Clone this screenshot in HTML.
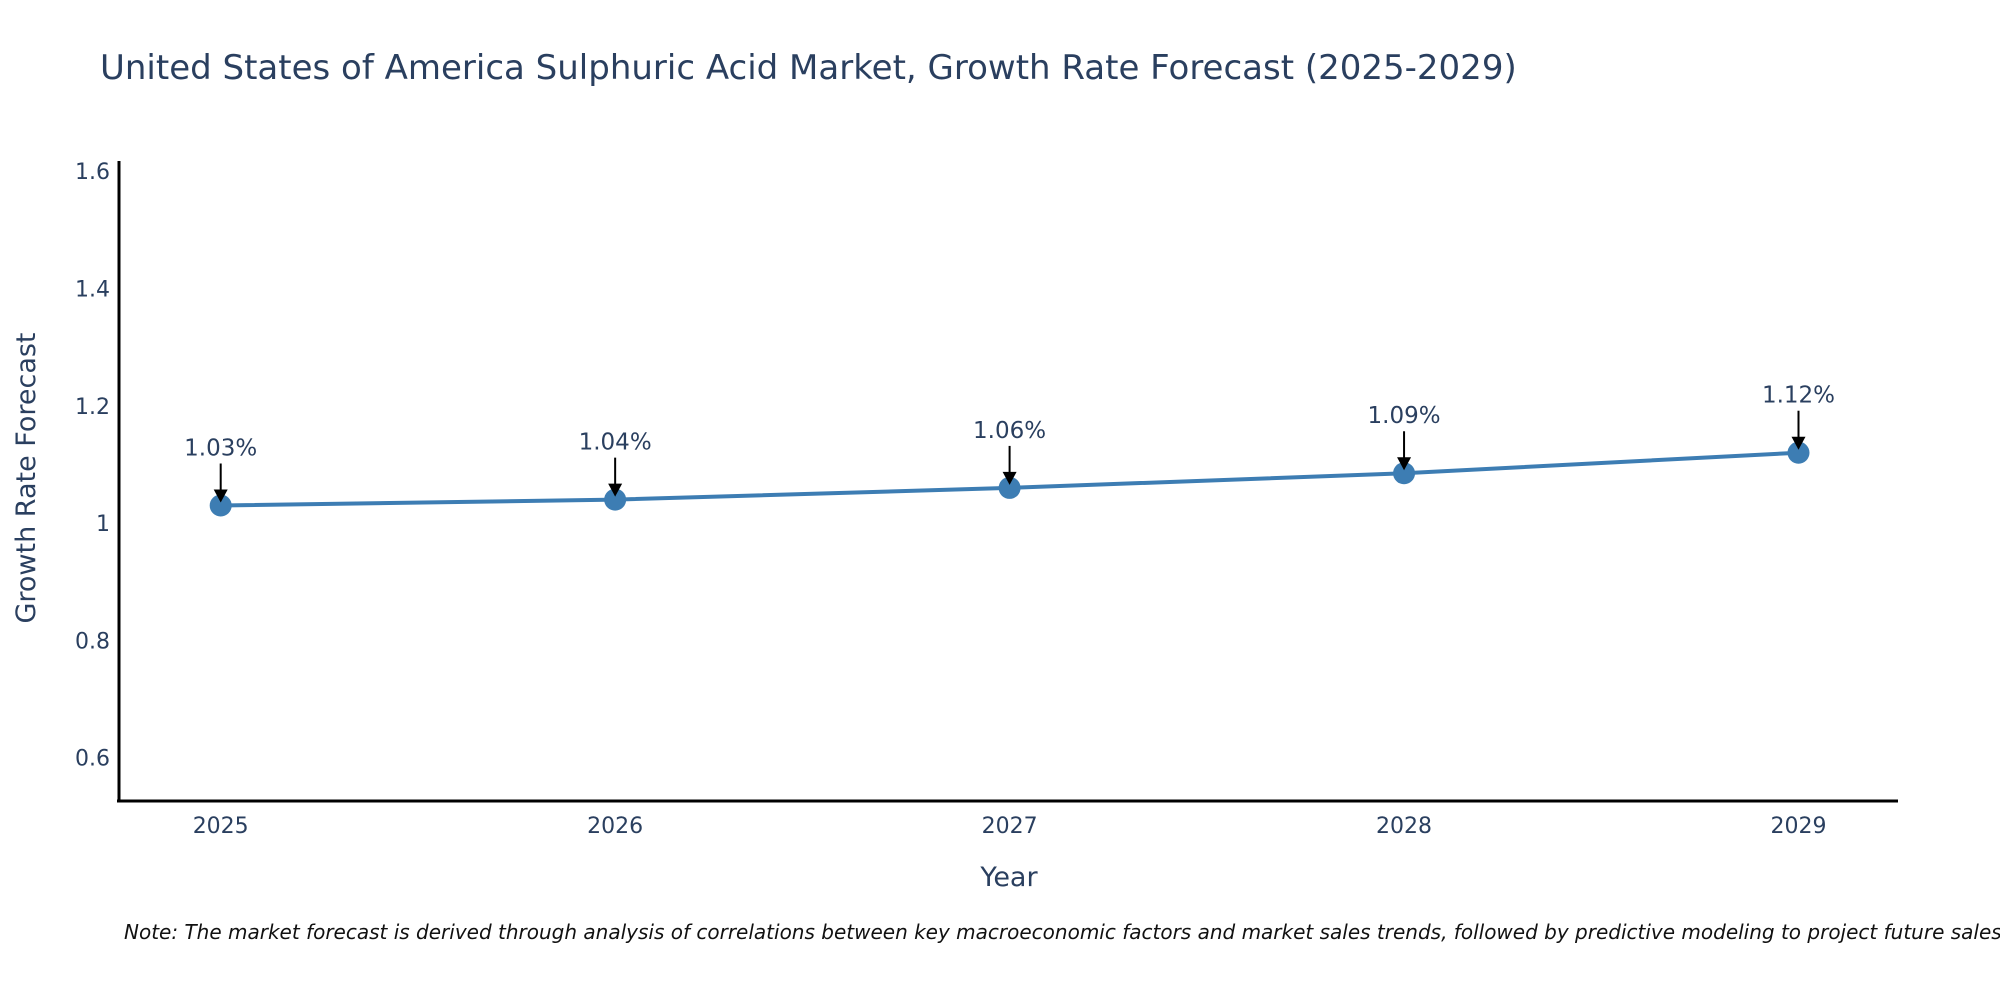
<!DOCTYPE html>
<html><head><meta charset="utf-8"><style>
body{margin:0;background:#fff;}
svg{display:block;font-family:"DejaVu Sans","Liberation Sans",sans-serif;}
</style></head><body>
<svg id="chart" width="2000" height="1000" viewBox="0 0 2000 1000" xmlns="http://www.w3.org/2000/svg">
<text x="100" y="79" font-size="34" fill="#2a3f5f">United States of America Sulphuric Acid Market, Growth Rate Forecast (2025-2029)</text>
<g id="yticks"></g>
<g id="xticks"></g>
<line x1="119" y1="161" x2="119" y2="802" stroke="#000" stroke-width="3"/>
<line x1="117" y1="801" x2="1898" y2="801" stroke="#000" stroke-width="3"/>
<text transform="translate(35,478) rotate(-90)" text-anchor="middle" font-size="27" fill="#2a3f5f">Growth Rate Forecast</text>
<text x="1009" y="886" text-anchor="middle" font-size="27" fill="#2a3f5f">Year</text>
<g id="series"></g>
<g id="annots"></g>
<text x="124" y="939" font-size="20" font-style="italic" fill="#111">Note: The market forecast is derived through analysis of correlations between key macroeconomic factors and market sales trends, followed by predictive modeling to project future sales.</text>
</svg>
<script>
const years = ["2025","2026","2027","2028","2029"];
const values = [1.03, 1.04, 1.06, 1.085, 1.12];
const labels = ["1.03%","1.04%","1.06%","1.09%","1.12%"];
const yTicks = [0.6, 0.8, 1, 1.2, 1.4, 1.6];
const yTickLabels = ["0.6","0.8","1","1.2","1.4","1.6"];

const NS = "http://www.w3.org/2000/svg";
function xs(i){ return 220.7 + i * (1798.5 - 220.7) / (years.length - 1); }
function ys(v){ return 757.7 - (v - 0.6) * 586.5; }
function mk(tag, attrs, parent){ const e = document.createElementNS(NS, tag); for (const k in attrs) e.setAttribute(k, attrs[k]); parent.appendChild(e); return e; }

const yg = document.getElementById('yticks');
yTicks.forEach((t, i) => {
  const e = mk('text', {x: 110, y: ys(t) + 8, 'text-anchor': 'end', 'font-size': 22, fill: '#2a3f5f'}, yg);
  
  
  e.textContent = yTickLabels[i];
});
const xg = document.getElementById('xticks');
years.forEach((y, i) => {
  const e = mk('text', {x: xs(i), y: 833, 'text-anchor': 'middle', 'font-size': 22, fill: '#2a3f5f'}, xg);
  
  
  e.textContent = y;
});
const sg = document.getElementById('series');
const pts = values.map((v, i) => xs(i) + ',' + ys(v)).join(' ');
const line = mk('polyline', {points: pts, fill: 'none', stroke: '#3d7db3', 'stroke-width': 4}, sg);


values.forEach((v, i) => {
  const c = mk('circle', {cx: xs(i), cy: ys(v), r: 11, fill: '#3d7db3'}, sg);
  
  
});
const ag = document.getElementById('annots');
values.forEach((v, i) => {
  const x = xs(i), y = ys(v);
  const l = mk('line', {x1: x, y1: y - 42, x2: x, y2: y - 12, stroke: '#000', 'stroke-width': 2}, ag);
  
  
  const h = mk('polygon', {points: (x-7)+','+(y-16)+' '+(x+7)+','+(y-16)+' '+x+','+(y-3), fill: '#000'}, ag);
  
  
  const t = mk('text', {x: x, y: y - 50, 'text-anchor': 'middle', 'font-size': 23, fill: '#2a3f5f'}, ag);
  
  
  t.textContent = labels[i];
});
</script>
</body></html>
